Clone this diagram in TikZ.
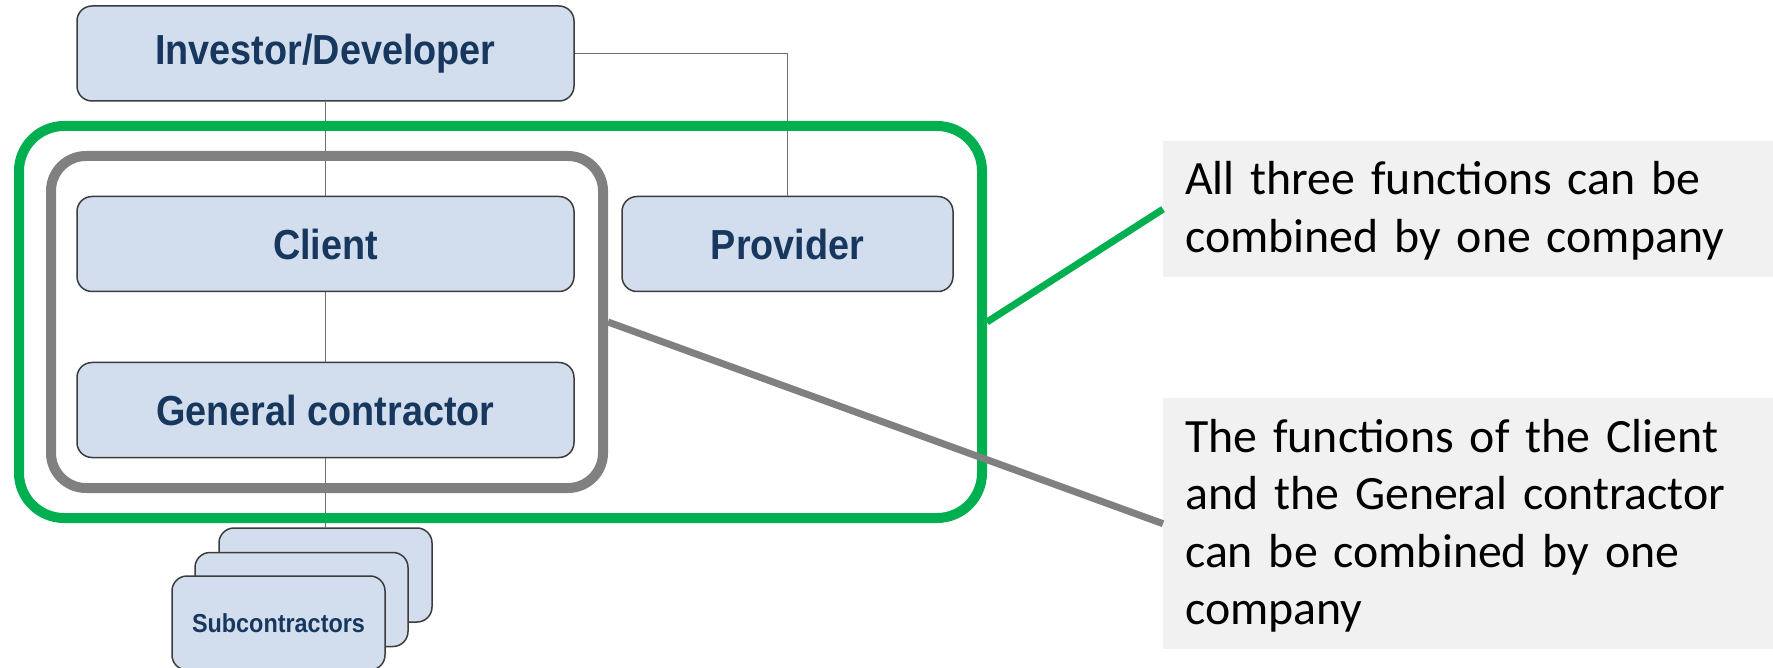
\documentclass[tikz,border=0pt]{standalone}
\usepackage{fontspec}
\setmainfont{Liberation Sans}
\newfontfamily\labelfont[FakeStretch=0.9]{Liberation Sans}
\newfontfamily\calloutfont{Carlito}
\definecolor{boxfill}{RGB}{210,222,237}
\definecolor{boxline}{RGB}{60,60,60}
\definecolor{labelblue}{RGB}{23,55,94}
\definecolor{linkgray}{RGB}{110,110,110}
\definecolor{framegreen}{RGB}{0,176,80}
\definecolor{framegray}{RGB}{128,128,128}
\definecolor{calloutbg}{RGB}{241,241,241}
\tikzset{
  orgbox/.style={draw=boxline, line width=1.5pt, fill=boxfill, rounded corners=15pt,
    inner sep=0pt, minimum height=95pt, text=labelblue,
    font=\labelfont\fontsize{42}{48}\selectfont\bfseries},
  subbox/.style={orgbox, minimum width=213pt, minimum height=94pt,
    font=\labelfont\fontsize{26}{30}\selectfont\bfseries},
  link/.style={draw=linkgray, line width=1.5pt},
  greenframe/.style={draw=framegreen, line width=10pt, rounded corners=45pt,
    minimum width=963pt, minimum height=392pt, inner sep=0pt},
  grayframe/.style={draw=framegray, line width=10pt, rounded corners=35pt,
    minimum width=552pt, minimum height=332pt, inner sep=0pt},
  calloutbox/.style={fill=calloutbg, inner sep=0pt, minimum width=610pt, anchor=north west},
  callouttext/.style={anchor=base west, inner sep=0pt, text width=580pt, align=left,
    font=\calloutfont\fontsize{47.8}{57.5}\selectfont}
}
\begin{document}
\begin{tikzpicture}[x=1pt, y=-1pt]
\useasboundingbox (0,0) rectangle (1773,668);

% subcontractor stack (back to front)
\node[subbox] (subA) at (325.5,575) {};
\node[subbox] (subB) at (301.5,599.5) {};
\node[subbox] (subC) at (278.5,623) {Subcontractors};

% organisation boxes
\node[orgbox, minimum width=497pt] (inv)  at (325.5,53.5) {Investor/Developer};
\node[orgbox, minimum width=497pt] (cli)  at (325.5,244)  {Client};
\node[orgbox, minimum width=331pt] (prov) at (787.5,244)  {Provider};
\node[orgbox, minimum width=497pt] (gc)   at (325.5,410)  {General contractor};

% reporting lines
\draw[link] (inv.south) -- (cli.north);
\draw[link] (cli.south) -- (gc.north);
\draw[link] (gc.south) -- (subA.north);
\draw[link] (inv.east) -| (prov.north);

% grouping frames
\node[greenframe] (allthree) at (500.5,322) {};
\node[grayframe]  (clientgc) at (327,322) {};

% callouts
\node[calloutbox, minimum height=136pt] (note1) at (1163,141) {};
\node[callouttext] (note1txt) at (1185,195)
  {All three functions can be\\combined by one company};
\node[calloutbox, minimum height=251pt] (note2) at (1163,398) {};
\node[callouttext] (note2txt) at (1185,452)
  {The functions of the Client\\and the General contractor\\can be combined by one\\company};

\draw[framegreen, line width=7pt] (allthree.east) -- (note1.west);
\draw[framegray, line width=7pt] (clientgc.east) -- (note2.west);
\end{tikzpicture}
\end{document}
